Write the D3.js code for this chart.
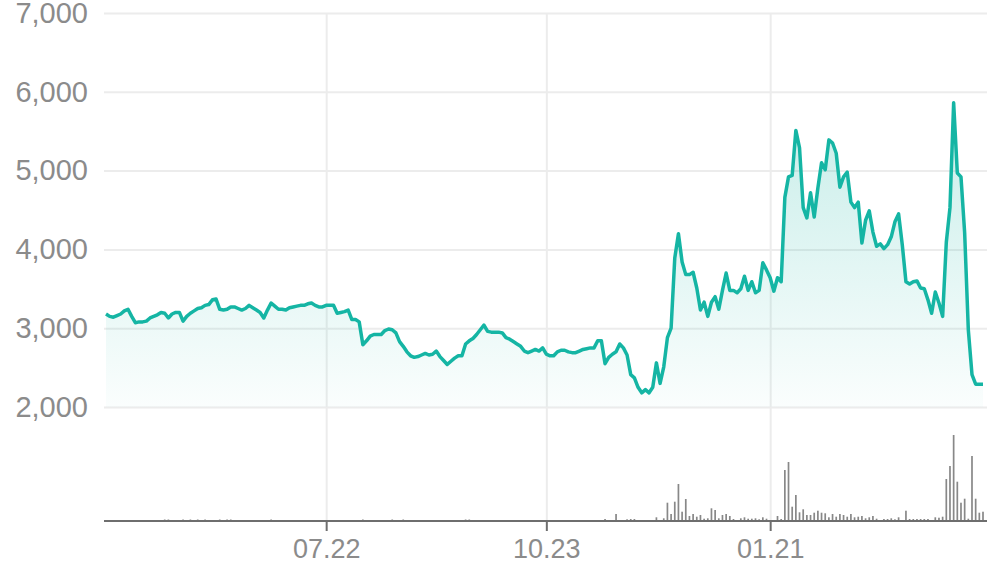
<!DOCTYPE html>
<html>
<head>
<meta charset="utf-8">
<script src="https://cdn.jsdelivr.net/npm/d3@7"></script>
<style>
  html, body { margin: 0; padding: 0; background: #fff; }
  svg { display: block; font-family: "Liberation Sans", Arial, sans-serif; }
  .label text { fill: #8b8b8b; }
  .grid line { stroke: #ececec; stroke-width: 2; }
</style>
</head>
<body>
<svg id="chart"></svg>
<script>
// Daily closing prices (one per trading day)
const prices = [
  3180, 3150, 3140, 3160, 3180, 3220, 3240, 3150, 3070, 3080, 3080, 3090, 3130, 3150, 3170, 3200, 3190, 3130, 3180, 3200,
  3200, 3090, 3150, 3190, 3220, 3250, 3260, 3290, 3300, 3360, 3370, 3240, 3230, 3240, 3270, 3270, 3250, 3230, 3250, 3290,
  3260, 3230, 3200, 3130, 3230, 3320, 3280, 3240, 3240, 3230, 3260, 3270, 3280, 3290, 3290, 3310, 3320, 3290, 3270, 3270,
  3290, 3290, 3290, 3190, 3200, 3210, 3230, 3110, 3110, 3080, 2790, 2840, 2900, 2920, 2920, 2920, 2970, 2990, 2980, 2940,
  2830, 2770, 2700, 2650, 2630, 2640, 2660, 2680, 2660, 2670, 2710, 2640, 2590, 2540, 2580, 2620, 2650, 2650, 2800, 2840,
  2870, 2920, 2980, 3040, 2960, 2950, 2950, 2950, 2940, 2880, 2860, 2830, 2800, 2770, 2710, 2690, 2710, 2730, 2710, 2750,
  2670, 2650, 2650, 2700, 2720, 2720, 2700, 2690, 2690, 2710, 2730, 2740, 2750, 2750, 2840, 2840, 2550, 2630, 2670, 2700,
  2800, 2750, 2660, 2410, 2370, 2250, 2180, 2220, 2180, 2250, 2560, 2300, 2510, 2880, 3000, 3890, 4200, 3840, 3680, 3680,
  3710, 3510, 3230, 3330, 3150, 3330, 3400, 3240, 3480, 3700, 3480, 3480, 3450, 3500, 3660, 3480, 3590, 3450, 3480, 3830,
  3740, 3640, 3470, 3640, 3590, 4660, 4920, 4940, 5510, 5290, 4530, 4400, 4720, 4410, 4780, 5100, 5010, 5390, 5350, 5220,
  4790, 4920, 4980, 4600, 4530, 4600, 4080, 4370, 4490, 4220, 4040, 4070, 4010, 4060, 4160, 4350, 4450, 4060, 3590, 3560,
  3590, 3600, 3510, 3500, 3360, 3190, 3460, 3320, 3150, 4090, 4530, 5860, 4970, 4920, 4210, 2980, 2410, 2290, 2290, 2290
];

// Daily volume (thousand shares)
const volumes = [
  0, 0, 0, 0, 0, 0, 0, 0, 0, 0, 0, 0, 0, 0, 0, 0, 15, 15, 0, 0,
  0, 15, 0, 15, 0, 15, 0, 15, 0, 0, 0, 15, 0, 15, 15, 0, 0, 0, 0, 0,
  0, 0, 0, 0, 0, 15, 0, 0, 0, 0, 0, 0, 0, 0, 0, 0, 0, 0, 0, 0,
  0, 0, 0, 0, 0, 0, 0, 0, 0, 0, 15, 0, 0, 0, 0, 0, 0, 0, 15, 0,
  0, 15, 0, 0, 0, 0, 0, 0, 0, 0, 0, 0, 0, 0, 0, 0, 0, 0, 15, 15,
  0, 0, 0, 0, 0, 0, 0, 0, 0, 0, 0, 0, 0, 0, 0, 0, 0, 0, 0, 0,
  0, 0, 0, 0, 0, 0, 0, 0, 0, 0, 0, 0, 0, 0, 0, 0, 20, 0, 10, 70,
  10, 10, 17, 20, 20, 10, 10, 0, 0, 10, 37, 10, 27, 183, 70, 193, 370, 93, 220, 50,
  70, 43, 60, 23, 27, 127, 110, 27, 60, 70, 50, 20, 10, 27, 37, 23, 23, 27, 17, 37,
  23, 10, 10, 50, 20, 510, 590, 143, 260, 87, 117, 60, 60, 83, 103, 83, 77, 37, 70, 43,
  70, 60, 43, 70, 37, 43, 50, 27, 37, 50, 23, 10, 20, 20, 27, 17, 37, 5, 103, 20,
  20, 20, 20, 20, 20, 10, 37, 33, 43, 420, 550, 860, 393, 183, 223, 23, 650, 223, 83, 93
];

// Axis ticks
const priceTicks = [2000, 3000, 4000, 5000, 6000, 7000];
const dateTickIndex = [60, 120, 181];
const dateTickLabels = ["07.22", "10.23", "01.21"];

const width = 996;
const height = 567;
const plotLeft = 104, plotRight = 987;
const plotTop = 13, priceBottom = 407, baseline = 521;

const svg = d3.select("#chart").attr("width", width).attr("height", height);

const x = d3.scaleLinear().domain([0, prices.length - 1]).range([106, 983]);
const y = d3.scaleLinear().domain([2000, 7000]).range([priceBottom, plotTop]);
const yVol = d3.scaleLinear().domain([0, 900]).range([baseline, baseline - 90]);

// Horizontal grid
svg.append("g")
  .attr("class", "grid")
  .attr("transform", `translate(${plotLeft},0)`)
  .call(d3.axisLeft(y).tickValues(priceTicks).tickSize(-(plotRight - plotLeft)).tickFormat(""))
  .call(g => g.select(".domain").remove());

// Vertical grid
svg.append("g")
  .attr("class", "grid")
  .attr("transform", `translate(0,${baseline})`)
  .call(d3.axisBottom(x).tickValues(dateTickIndex).tickSize(-(baseline - plotTop)).tickFormat(""))
  .call(g => g.select(".domain").remove());

// Area gradient
const grad = svg.append("defs").append("linearGradient")
  .attr("id", "fillGrad")
  .attr("x1", 0).attr("y1", 0).attr("x2", 0).attr("y2", 1);
grad.append("stop").attr("offset", "0%").attr("stop-color", "#17b5a3").attr("stop-opacity", 0.24);
grad.append("stop").attr("offset", "100%").attr("stop-color", "#17b5a3").attr("stop-opacity", 0.02);

svg.append("path")
  .datum(prices)
  .attr("fill", "url(#fillGrad)")
  .attr("d", d3.area()
    .x((d, i) => x(i))
    .y0(priceBottom)
    .y1(d => y(d)));

svg.append("path")
  .datum(prices)
  .attr("fill", "none")
  .attr("stroke", "#15b5a4")
  .attr("stroke-width", 3.5)
  .attr("stroke-linejoin", "round")
  .attr("d", d3.line()
    .x((d, i) => x(i))
    .y(d => y(d)));

// Volume bars
svg.append("g")
  .selectAll("rect")
  .data(volumes)
  .join("rect")
  .attr("x", (d, i) => x(i) - 0.85)
  .attr("y", d => yVol(d))
  .attr("width", 1.7)
  .attr("height", d => baseline - yVol(d))
  .attr("fill", "#888");

// Baseline
svg.append("line")
  .attr("x1", plotLeft).attr("x2", plotRight)
  .attr("y1", baseline).attr("y2", baseline)
  .attr("stroke", "#6e6e6e")
  .attr("stroke-width", 2);

// Y labels
svg.append("g")
  .attr("class", "label")
  .attr("transform", `translate(${plotLeft},0)`)
  .call(d3.axisLeft(y).tickValues(priceTicks).tickSize(0).tickPadding(16).tickFormat(d3.format(",")))
  .call(g => g.select(".domain").remove())
  .selectAll("text")
  .attr("font-size", 29)
  .attr("font-family", null);

// X axis ticks and labels
svg.append("g")
  .attr("class", "label")
  .attr("transform", `translate(0,${baseline})`)
  .call(d3.axisBottom(x).tickValues(dateTickIndex).tickSize(10).tickPadding(8)
    .tickFormat((d, i) => dateTickLabels[i]))
  .call(g => g.select(".domain").remove())
  .call(g => g.selectAll("line").attr("stroke", "#6e6e6e").attr("stroke-width", 2))
  .selectAll("text")
  .attr("font-size", 27)
  .attr("font-family", null);
</script>
</body>
</html>
